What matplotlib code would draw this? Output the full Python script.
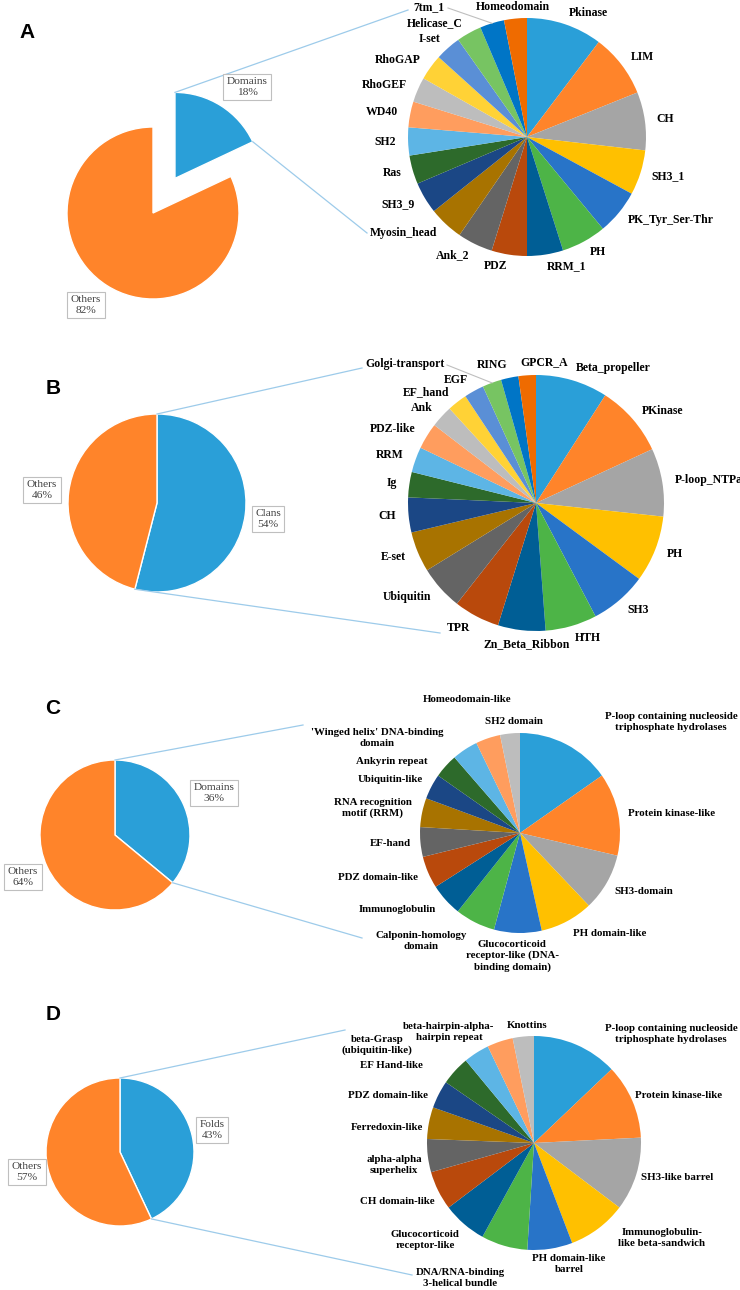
"""
Pie-of-pie figure: share of domains / clans / folds (left) and the
breakdown of the most frequent ones (right), panels A-D.
"""
import matplotlib
matplotlib.use("Agg")
import matplotlib.pyplot as plt
import numpy as np

W, H = 740, 1290
SERIF = "Liberation Serif"
SANS = "Liberation Sans"
BLUE, ORANGE = "#2A9FD8", "#FF842A"
LINK = "#9DCBEA"
PALETTE = ["#2A9FD8", "#FF842A", "#A5A5A5", "#FFC000", "#2874C8", "#4DB447",
           "#005E95", "#B9490C", "#646464", "#A87300", "#1B4785", "#2D6A2B",
           "#5DB5E5", "#FF9D5E", "#BDBDBD", "#FFD236", "#5A8FD6", "#77C462",
           "#0075C6", "#EF6B00"]

# ---- data -------------------------------------------------------------
A_split = ["Domains", "Others"]
A_split_pct = [18, 82]
A_names = ["Pkinase", "LIM", "CH", "SH3_1", "PK_Tyr_Ser-Thr", "PH", "RRM_1",
           "PDZ", "Ank_2", "Myosin_head", "SH3_9", "Ras", "SH2", "WD40",
           "RhoGEF", "RhoGAP", "I-set", "Helicase_C", "7tm_1", "Homeodomain"]
A_values = [10.3, 8.6, 7.9, 6.1, 6.1, 6.1, 4.9, 4.8, 4.8, 4.7, 4.3, 3.9, 3.8,
            3.5, 3.4, 3.5, 3.5, 3.4, 3.3, 3.1]

B_split = ["Clans", "Others"]
B_split_pct = [54, 46]
B_names = ["Beta_propeller", "PKinase", "P-loop_NTPase", "PH", "SH3", "HTH",
           "Zn_Beta_Ribbon", "TPR", "Ubiquitin", "E-set", "CH", "Ig", "RRM",
           "PDZ-like", "Ank", "EF_hand", "EGF", "Golgi-transport", "RING",
           "GPCR_A"]
B_values = [9.1, 9.0, 8.6, 8.4, 7.2, 6.5, 6.0, 5.8, 5.6, 5.1, 4.4, 3.2, 3.2,
            3.3, 2.8, 2.5, 2.5, 2.4, 2.2, 2.2]

C_split = ["Domains", "Others"]
C_split_pct = [36, 64]
C_names = ["P-loop containing nucleoside\ntriphosphate hydrolases",
           "Protein kinase-like", "SH3-domain", "PH domain-like",
           "Glucocorticoid\nreceptor-like (DNA-\nbinding domain)",
           "Calponin-homology\ndomain", "Immunoglobulin", "PDZ domain-like",
           "EF-hand", "RNA recognition\nmotif (RRM)", "Ubiquitin-like",
           "Ankyrin repeat", "'Winged helix' DNA-binding\ndomain",
           "Homeodomain-like", "SH2 domain"]
C_values = [15.3, 13.4, 9.3, 8.6, 7.7, 6.5, 5.3, 5.2, 4.8, 4.7, 4.1, 3.9,
            4.2, 4.0, 3.2]

D_split = ["Folds", "Others"]
D_split_pct = [43, 57]
D_names = ["P-loop containing nucleoside\ntriphosphate hydrolases",
           "Protein kinase-like", "SH3-like barrel",
           "Immunoglobulin-\nlike beta-sandwich", "PH domain-like\nbarrel",
           "DNA/RNA-binding\n3-helical bundle", "Glucocorticoid\nreceptor-like",
           "CH domain-like", "alpha-alpha\nsuperhelix", "Ferredoxin-like",
           "PDZ domain-like", "EF Hand-like", "beta-Grasp\n(ubiquitin-like)",
           "beta-hairpin-alpha-\nhairpin repeat", "Knottins"]
D_values = [12.9, 11.3, 11.1, 8.9, 6.8, 7.0, 6.7, 5.9, 5.0, 4.8, 4.2, 4.4,
            3.9, 3.9, 3.2]

# ---- layout (pixels from the top-left corner) --------------------------
C_label_xy = [(671, 722), (672, 813), (644, 891), (610, 934), (512, 956),
              (421, 941), (397, 910), (378, 878), (390, 843), (373, 808),
              (390, 780), (392, 762), (377, 738), (467, 700), (514, 722)]
D_label_xy = [(671, 1034), (679, 1096), (677, 1177), (662, 1238), (569, 1264),
              (460, 1278), (425, 1240), (397, 1202), (394, 1165), (387, 1127),
              (388, 1096), (391, 1066), (377, 1045), (449, 1032), (527, 1026)]


def P(x, y):
    return x, H - y


def left_pie(ax, values, names, center, r, boxes, shift=0.0):
    wedges, _ = ax.pie(values, colors=[BLUE, ORANGE], radius=r,
                       center=P(*center), startangle=90, counterclock=False,
                       wedgeprops=dict(edgecolor="white", linewidth=1))
    w = wedges[0]
    if shift:
        t = np.deg2rad((w.theta1 + w.theta2) / 2)
        cx, cy = w.center
        w.set_center((cx + shift * np.cos(t), cy + shift * np.sin(t)))
    for name, v, (bx, by) in zip(names, values, boxes):
        ax.text(*P(bx, by), f"{name}\n{v}%", ha="center", va="center",
                fontsize=8.2, family=SERIF, color="#404040", linespacing=1.15,
                bbox=dict(boxstyle="square,pad=0.3", fc="white",
                          ec="#BFBFBF", lw=0.8))
    return w


def connectors(ax, w, top_end, bottom_end):
    cx, cy = w.center
    for ang, end in ((w.theta2, top_end), (w.theta1, bottom_end)):
        t = np.deg2rad(ang)
        ex, ey = P(*end)
        ax.plot([cx + w.r * np.cos(t), ex], [cy + w.r * np.sin(t), ey],
                color=LINK, lw=0.9)


def right_pie(ax, values, center, r):
    wedges, _ = ax.pie(values, colors=PALETTE[:len(values)], radius=r,
                       center=P(*center), startangle=90, counterclock=False,
                       wedgeprops=dict(linewidth=0))
    return wedges


def rim(w, k):
    t = np.deg2rad((w.theta1 + w.theta2) / 2)
    return w.center[0] + k * w.r * np.cos(t), w.center[1] + k * w.r * np.sin(t)


def auto_labels(ax, wedges, names, manual, leaders):
    for w, name in zip(wedges, names):
        kw = dict(va="center", fontsize=8.5, family=SERIF, weight="bold")
        if name in manual:
            x, y, ha = manual[name]
            ax.text(*P(x, y), name, ha=ha, **kw)
        else:
            x, y = rim(w, 1.1)
            ax.text(x, y, name, ha="left" if x > w.center[0] else "right", **kw)
        if name in leaders:
            sx, sy = P(*leaders[name])
            ex, ey = rim(w, 1.0)
            ax.plot([sx, ex], [sy, ey], color="#BFBFBF", lw=0.8)


def fixed_labels(ax, names, positions):
    for name, (x, y) in zip(names, positions):
        ax.text(*P(x, y), name, ha="center", va="center", fontsize=7.8,
                family=SERIF, weight="bold", linespacing=1.2)


fig = plt.figure(figsize=(W / 100, H / 100), dpi=100)
ax = fig.add_axes([0, 0, 1, 1])

# A
w = left_pie(ax, A_split_pct, A_split, (153, 213), 86,
             [(247, 87), (86, 305)], shift=41)
connectors(ax, w, (408, 10), (367, 233))
wr = right_pie(ax, A_values, (527, 137), 119)
auto_labels(ax, wr, A_names,
            {"7tm_1": (445, 7, "right"), "Homeodomain": (513, 7, "center")},
            {"7tm_1": (448, 8)})

# B
w = left_pie(ax, B_split_pct, B_split, (157, 503), 89,
             [(268, 519), (42, 490)])
connectors(ax, w, (362, 368), (440, 633))
wr = right_pie(ax, B_values, (536, 503), 128)
auto_labels(ax, wr, B_names,
            {"Golgi-transport": (445, 364, "right"),
             "GPCR_A": (520, 362, "left"),
             "Zn_Beta_Ribbon": (527, 644, "center")},
            {"Golgi-transport": (447, 365)})

# C
w = left_pie(ax, C_split_pct, C_split, (115, 835), 75,
             [(214, 793), (23, 877)])
connectors(ax, w, (303, 725), (362, 938))
right_pie(ax, C_values, (520, 833), 100)
fixed_labels(ax, C_names, C_label_xy)

# D
w = left_pie(ax, D_split_pct, D_split, (120, 1152), 74,
             [(212, 1130), (27, 1172)])
connectors(ax, w, (345, 1030), (412, 1275))
right_pie(ax, D_values, (534, 1143), 107)
fixed_labels(ax, D_names, D_label_xy)

for letter, (x, y) in zip("ABCD", [(27, 32), (53, 388), (53, 709), (53, 1015)]):
    ax.text(*P(x, y), letter, ha="center", va="center", fontsize=15,
            family=SANS, weight="bold")

ax.set_xlim(0, W)
ax.set_ylim(0, H)
ax.set_aspect("equal")
ax.axis("off")
fig.savefig("out.png", dpi=100)
